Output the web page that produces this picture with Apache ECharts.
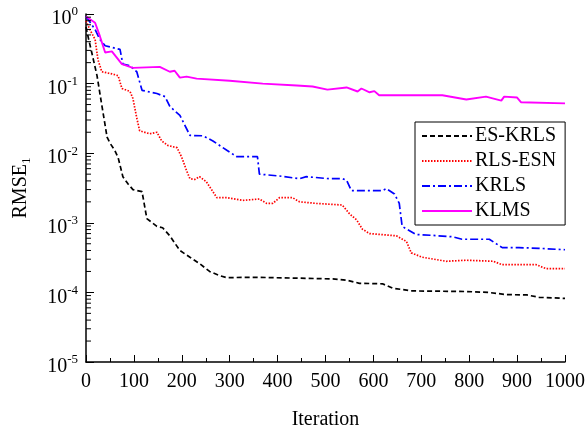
<!DOCTYPE html>
<html>
<head>
<meta charset="utf-8">
<script src="https://cdn.jsdelivr.net/npm/echarts@6/dist/echarts.min.js"></script>
<style>html,body{margin:0;padding:0;background:#fff;}#c{width:588px;height:435px;}</style>
</head>
<body>
<div id="c"></div>
<script>
// ---- data ----
const seriesNames = ['ES-KRLS', 'RLS-ESN', 'KRLS', 'KLMS'];
const xTicks = [0, 100, 200, 300, 400, 500, 600, 700, 800, 900, 1000];

const esKrlsIter = [0, 5, 12, 23, 33, 44, 50, 60, 67, 77, 88, 98, 117, 127, 148, 160, 175, 196, 217, 237, 258, 279, 294, 350, 446, 515, 544, 571, 619, 640, 681, 794, 840, 877, 920, 946, 1000];
const esKrlsVal  = [0.65, 0.45, 0.28, 0.13, 0.049, 0.017, 0.014, 0.011, 0.0087, 0.0046, 0.0036, 0.0030, 0.0028, 0.00115, 0.00089, 0.00085, 0.00065, 0.0004, 0.00032, 0.00026, 0.0002, 0.000174, 0.000163, 0.000165, 0.00016, 0.000156, 0.00015, 0.000135, 0.000133, 0.000115, 0.000105, 0.000103, 0.0001, 0.000093, 0.000092, 0.000085, 0.000082];

const rlsEsnIter = [0, 8, 19, 25, 33, 54, 67, 75, 92, 98, 106, 112, 133, 148, 158, 171, 190, 200, 210, 217, 227, 237, 251, 258, 273, 294, 327, 362, 377, 390, 404, 431, 446, 481, 535, 550, 565, 577, 592, 648, 669, 679, 702, 752, 794, 850, 869, 940, 960, 1000];
const rlsEsnVal  = [0.8, 0.6, 0.43, 0.22, 0.148, 0.138, 0.13, 0.085, 0.077, 0.061, 0.032, 0.021, 0.019, 0.02, 0.015, 0.0129, 0.012, 0.0087, 0.0056, 0.0043, 0.0042, 0.0046, 0.0039, 0.0033, 0.0023, 0.0023, 0.0021, 0.0022, 0.0019, 0.0019, 0.0023, 0.0023, 0.0020, 0.0019, 0.0018, 0.00135, 0.0011, 0.00081, 0.0007, 0.00065, 0.00054, 0.00037, 0.00032, 0.00028, 0.00029, 0.00028, 0.00025, 0.00025, 0.00022, 0.00022];

const krlsIter = [0, 19, 29, 40, 71, 77, 92, 106, 117, 148, 165, 175, 196, 217, 244, 265, 294, 315, 358, 362, 404, 446, 460, 508, 535, 544, 554, 585, 619, 627, 644, 654, 660, 689, 723, 765, 785, 842, 869, 904, 946, 1000];
const krlsVal  = [0.92, 0.6, 0.43, 0.35, 0.31, 0.19, 0.18, 0.148, 0.08, 0.072, 0.065, 0.047, 0.035, 0.018, 0.0178, 0.015, 0.011, 0.0089, 0.0089, 0.005, 0.0047, 0.0043, 0.0046, 0.0043, 0.0043, 0.0041, 0.0029, 0.0029, 0.0029, 0.0031, 0.0026, 0.0019, 0.00089, 0.00068, 0.00066, 0.00063, 0.00058, 0.00058, 0.00044, 0.00044, 0.00043, 0.00041];

const klmsIter = [0, 19, 29, 40, 54, 75, 98, 154, 175, 185, 196, 210, 231, 300, 369, 440, 473, 504, 544, 567, 575, 592, 602, 612, 654, 744, 794, 835, 867, 873, 900, 908, 1000];
const klmsVal  = [0.92, 0.75, 0.48, 0.28, 0.29, 0.19, 0.168, 0.174, 0.148, 0.153, 0.122, 0.126, 0.118, 0.11, 0.1, 0.094, 0.091, 0.082, 0.088, 0.077, 0.085, 0.075, 0.078, 0.068, 0.068, 0.068, 0.059, 0.065, 0.057, 0.065, 0.063, 0.054, 0.052];

const yMinorTicks = [];
for (let k = -5; k < 0; k++) for (let m = 2; m <= 9; m++) yMinorTicks.push(m * Math.pow(10, k));

// ---- chart ----
const FONT = '"Liberation Serif", "Times New Roman", serif';
const pairs = (xs, ys) => xs.map((x, i) => [x, ys[i]]);
const chart = echarts.init(document.getElementById('c'), null, {renderer: 'canvas'});

const lineDefs = [
  {name: seriesNames[0], data: pairs(esKrlsIter, esKrlsVal), color: '#000000', type: [5, 3], width: 1.7},
  {name: seriesNames[1], data: pairs(rlsEsnIter, rlsEsnVal), color: '#ff0000', type: [1.5, 1.5], width: 1.7},
  {name: seriesNames[2], data: pairs(krlsIter, krlsVal), color: '#0000ff', type: [8, 3, 2, 3], width: 1.7},
  {name: seriesNames[3], data: pairs(klmsIter, klmsVal), color: '#ff00ff', type: 'solid', width: 1.9}
];

const series = lineDefs.map(d => ({
  name: d.name, type: 'line', data: d.data, symbol: 'none', showSymbol: false,
  color: d.color,
  lineStyle: {color: d.color, width: d.width, type: d.type},
  z: 3
}));
series.push({
  name: 'minor', type: 'custom', silent: true, z: 5,
  data: yMinorTicks.map(v => [0, v]),
  encode: {x: 0, y: 1},
  renderItem: function (params, api) {
    const p = api.coord([0, api.value(1)]);
    return {type: 'line', shape: {x1: p[0], y1: p[1], x2: p[0] + 5, y2: p[1]}, style: {stroke: '#000', lineWidth: 1}};
  }
});

chart.setOption({
  animation: false,
  backgroundColor: '#fff',
  grid: {left: 86, right: 22, top: 14, bottom: 67},
  legend: {
    data: seriesNames,
    orient: 'vertical',
    left: 415, top: 122,
    padding: [4, 9, 4, 6],
    itemGap: 5,
    itemWidth: 50, itemHeight: 14,
    borderColor: '#000', borderWidth: 1,
    backgroundColor: '#fff',
    itemStyle: {color: 'transparent', borderColor: 'transparent', borderWidth: 0, opacity: 0},
    textStyle: {fontFamily: FONT, fontSize: 20, color: '#000', lineHeight: 20, padding: [0, 0, 0, -2]}
  },
  xAxis: {
    type: 'value', min: 0, max: 1000, interval: 100,
    name: 'Iteration', nameLocation: 'middle', nameGap: 48,
    nameTextStyle: {fontFamily: FONT, fontSize: 20, color: '#000'},
    axisLine: {show: true, lineStyle: {color: '#000', width: 1.5}},
    axisTick: {show: true, inside: true, length: 7, lineStyle: {color: '#000', width: 1}},
    minorTick: {show: true, splitNumber: 2, length: 4, lineStyle: {color: '#000', width: 1}},
    axisLabel: {fontFamily: FONT, fontSize: 20, color: '#000', margin: 10,
      formatter: v => (xTicks.indexOf(v) >= 0 ? String(v) : '')},
    splitLine: {show: false}
  },
  yAxis: {
    type: 'log', logBase: 10, min: 1e-5, max: 1,
    name: '{a|RMSE}{s|1}', nameLocation: 'middle', nameGap: 53,
    nameTextStyle: {fontFamily: FONT, fontSize: 20, color: '#000',
      rich: {a: {fontFamily: FONT, fontSize: 20, color: '#000'},
             s: {fontFamily: FONT, fontSize: 13, color: '#000', padding: [12, 0, 0, 0]}}},
    axisLine: {show: true, lineStyle: {color: '#000', width: 1.5}},
    axisTick: {show: true, inside: true, length: 8, lineStyle: {color: '#000', width: 1}},
    axisLabel: {
      fontFamily: FONT, color: '#000', margin: 8,
      formatter: v => '{b|10}{e|' + Math.round(Math.log10(v)) + '}',
      rich: {
        b: {fontFamily: FONT, fontSize: 20, color: '#000', padding: [10, 0, 0, 0]},
        e: {fontFamily: FONT, fontSize: 13, color: '#000', padding: [0, 0, 4, 0]}
      }
    },
    splitLine: {show: false}
  },
  series: series
});
</script>
</body>
</html>
